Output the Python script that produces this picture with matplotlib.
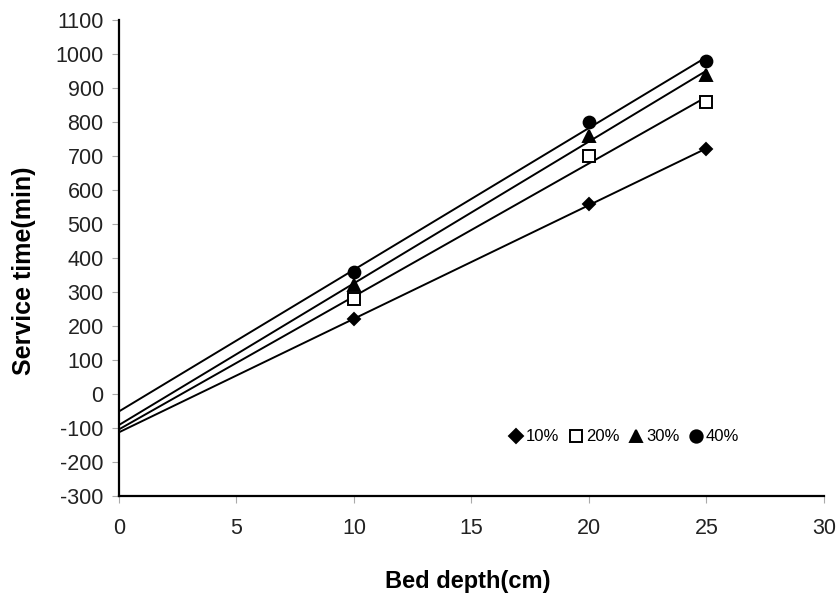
import numpy as np
import matplotlib.pyplot as plt

plt.rcParams['font.family'] = ['Liberation Sans', 'DejaVu Sans']
plt.rcParams['axes.unicode_minus'] = False

bed_depth = [10, 20, 25]
labels = ["10%", "20%", "30%", "40%"]
service_10 = [220, 560, 720]
service_20 = [280, 700, 860]
service_30 = [320, 760, 940]
service_40 = [360, 800, 980]
series = [service_10, service_20, service_30, service_40]
markers = ['D', 's', '^', 'o']
fills = ['black', 'white', 'black', 'black']
sizes = [6.5, 8, 8.5, 8.5]

fig = plt.figure(figsize=(8.39, 5.96), dpi=100)
ax = fig.add_axes([0.1418, 0.168, 0.8402, 0.798])

x_fit = np.array([0, 25])
handles = []
for ys, m, fc, ms, lab in zip(series, markers, fills, sizes, labels):
    # linear BDST fit through the three points
    k, b = np.polyfit(bed_depth, ys, 1)
    ax.plot(x_fit, k * x_fit + b, color='black', lw=1.4, zorder=2)
    h, = ax.plot(bed_depth, ys, linestyle='none', marker=m, ms=ms,
                 mfc=fc, mec='black', mew=1.4, zorder=3, label=lab)
    handles.append(h)

ax.set_xlim(0, 30)
ax.set_ylim(-300, 1100)
ax.set_xticks(range(0, 31, 5))
ax.set_yticks(range(-300, 1101, 100))
ax.spines['top'].set_visible(False)
ax.spines['right'].set_visible(False)
ax.spines['left'].set_linewidth(1.6)
ax.spines['bottom'].set_linewidth(1.6)
ax.tick_params(direction='out', length=5, width=0.8, color='#aaaaaa',
               labelsize=15.5, labelcolor='#222222')
ax.tick_params(axis='y', pad=6)
ax.tick_params(axis='x', pad=11)

ax.set_xlabel("Bed depth(cm)", fontsize=17, fontweight='bold')
ax.set_ylabel("Service time(min)", fontsize=18, fontweight='bold')
ax.xaxis.set_label_coords(0.495, -0.155)
ax.yaxis.set_label_coords(-0.117, 0.473)

ax.legend(handles=handles, ncol=4, loc='center', bbox_to_anchor=(0.716, 0.124),
          frameon=False, fontsize=12, handlelength=0.9, handletextpad=0.15,
          columnspacing=0.55, markerscale=1.05, borderpad=0)

fig.savefig("out.png", dpi=100)
